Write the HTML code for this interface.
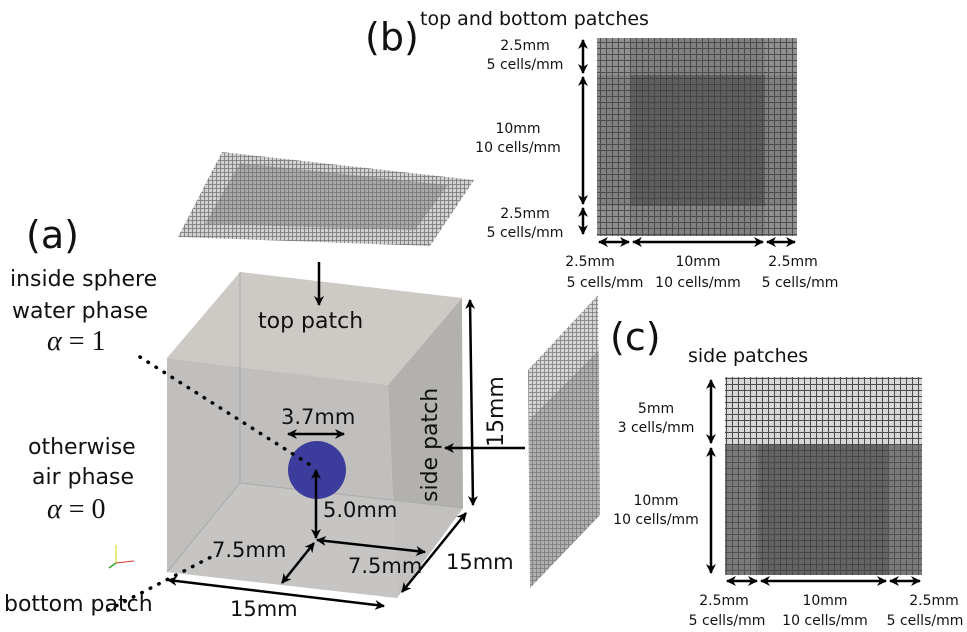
<!DOCTYPE html>
<html><head><meta charset="utf-8"><style>
html,body{margin:0;padding:0;background:#fff;}
svg{display:block;font-family:"Liberation Sans","DejaVu Sans",sans-serif;}
</style></head><body>
<svg width="967" height="632" viewBox="0 0 967 632" xmlns="http://www.w3.org/2000/svg">
<defs>
<marker id="ah" viewBox="0 0 10 10" refX="9" refY="5" markerWidth="4" markerHeight="4" orient="auto-start-reverse"><path d="M0,0 L10,5 L0,10 L3,5 z" fill="#000"/></marker>
<pattern id="gc" width="6" height="6" patternUnits="userSpaceOnUse"><rect width="6" height="6" fill="#e8e8e8"/><path d="M0,0.5H6M0.5,0V6" stroke="#444" stroke-width="1"/></pattern>
<pattern id="gm" width="4" height="4" patternUnits="userSpaceOnUse"><rect width="4" height="4" fill="#ccc"/><path d="M0,0.5H4M0.5,0V4" stroke="#666" stroke-width="0.8"/></pattern>
</defs>

<!-- top patch mesh -->
<polygon points="222,152 474,180 430,246 178,237" fill="url(#gm)" opacity="0.9"/>
<polygon points="240,163 448,185 415,230 205,224" fill="#777" opacity="0.45"/>
<!-- side patch mesh -->
<polygon points="598,295 600,515 530,588 528,370" fill="url(#gm)" opacity="0.85"/>
<polygon points="599,350 600,515 530,588 529,420" fill="#777" opacity="0.4"/>

<!-- cube -->
<polygon points="240,272 462,298 388,385 167,358" fill="#cdcac5"/>
<polygon points="462,298 463,508 397,598 388,385" fill="#b3b1ae"/>
<polygon points="167,358 388,385 397,598 167,572" fill="#c0bfbd"/>
<polygon points="240,483 463,508 397,598 167,572" fill="#c9c8c6" opacity="0.7"/>
<line x1="240" y1="272" x2="240" y2="483" stroke="#aaa" stroke-width="1"/>
<line x1="240" y1="483" x2="463" y2="508" stroke="#aaa" stroke-width="1"/>
<line x1="240" y1="483" x2="167" y2="572" stroke="#aaa" stroke-width="1"/>
<circle cx="317" cy="470" r="29" fill="#3c3c9c"/>

<!-- dotted leaders -->
<line x1="140" y1="357" x2="315" y2="468" stroke="#000" stroke-width="3.5" stroke-dasharray="0.5,9" stroke-linecap="round"/>
<line x1="108" y1="610" x2="215" y2="555" stroke="#000" stroke-width="3.5" stroke-dasharray="0.5,9" stroke-linecap="round"/>

<!-- arrows -->
<g stroke="#000" stroke-width="2.5" fill="none" marker-end="url(#ah)">
<line x1="319" y1="262" x2="319" y2="305"/>
<line x1="525" y1="448" x2="445" y2="448"/>
</g>
<g stroke="#000" stroke-width="2.5" fill="none" marker-start="url(#ah)" marker-end="url(#ah)">
<line x1="288" y1="434" x2="344" y2="434"/>
<line x1="316" y1="470" x2="316" y2="538"/>
<line x1="317" y1="540" x2="425" y2="552"/>
<line x1="314" y1="543" x2="282" y2="583"/>
<line x1="168" y1="580" x2="384" y2="606"/>
<line x1="470" y1="300" x2="473" y2="505"/>
<line x1="466" y1="513" x2="402" y2="592"/>
</g>
<!-- axes glyph -->
<line x1="116" y1="545" x2="116" y2="563" stroke="#dd0" stroke-width="1"/>
<line x1="116" y1="563" x2="134" y2="561" stroke="#d33" stroke-width="1"/>
<line x1="116" y1="563" x2="109" y2="568" stroke="#3a3" stroke-width="1.5"/>

<g font-size="24" fill="#111" font-family="'DejaVu Sans','Liberation Sans',sans-serif">
<text x="258" y="328" font-size="22">top patch</text>
<text x="281" y="424" font-size="21">3.7mm</text>
<text x="323" y="517" font-size="21">5.0mm</text>
<text x="212" y="557" font-size="21">7.5mm</text>
<text x="348" y="573" font-size="21">7.5mm</text>
<text x="446" y="569" font-size="21">15mm</text>
<text x="230" y="616" font-size="21">15mm</text>
<text x="4" y="611" font-size="22">bottom patch</text>
<text x="10" y="286" font-size="22">inside sphere</text>
<text x="12" y="318" font-size="22">water phase</text>
<text x="28" y="454" font-size="22">otherwise</text>
<text x="32" y="484" font-size="22">air phase</text>
<text x="47" y="350" font-family="'Liberation Serif',serif" font-style="italic" font-size="28">α <tspan font-style="normal">= 1</tspan></text>
<text x="47" y="518" font-family="'Liberation Serif',serif" font-style="italic" font-size="28">α <tspan font-style="normal">= 0</tspan></text>
<text x="0" y="0" transform="translate(437,502) rotate(-90)" font-size="22">side patch</text>
<text x="0" y="0" transform="translate(503,447) rotate(-90)" font-size="22">15mm</text>
<text x="26" y="248" font-size="38">(a)</text>
<text x="365" y="50" font-size="38">(b)</text>
<text x="610" y="350" font-size="38">(c)</text>
<text x="420" y="25" font-size="19">top and bottom patches</text>
<text x="688" y="362" font-size="19">side patches</text>
</g>

<!-- panel b -->
<rect x="597" y="38" width="200" height="198" fill="url(#gc)"/>
<rect x="597" y="38" width="200" height="198" fill="#555" opacity="0.6"/>
<rect x="631" y="75" width="134" height="131" fill="#333" opacity="0.35"/>
<rect x="631" y="38" width="134" height="198" fill="#444" opacity="0.2"/>
<rect x="597" y="75" width="200" height="131" fill="#444" opacity="0.2"/>
<g stroke="#000" stroke-width="2.5" marker-start="url(#ah)" marker-end="url(#ah)">
<line x1="583" y1="40" x2="583" y2="73"/>
<line x1="583" y1="77" x2="583" y2="204"/>
<line x1="583" y1="208" x2="583" y2="234"/>
<line x1="599" y1="242" x2="629" y2="242"/>
<line x1="633" y1="242" x2="763" y2="242"/>
<line x1="767" y1="242" x2="795" y2="242"/>
</g>
<g font-size="14" fill="#111" text-anchor="middle" font-family="'DejaVu Sans','Liberation Sans',sans-serif">
<text x="525" y="50">2.5mm</text><text x="525" y="69">5 cells/mm</text>
<text x="518" y="133">10mm</text><text x="518" y="152">10 cells/mm</text>
<text x="525" y="218">2.5mm</text><text x="525" y="237">5 cells/mm</text>
<text x="590" y="266">2.5mm</text><text x="605" y="287">5 cells/mm</text>
<text x="698" y="266">10mm</text><text x="698" y="287">10 cells/mm</text>
<text x="793" y="266">2.5mm</text><text x="800" y="287">5 cells/mm</text>
</g>

<!-- panel c -->
<rect x="725" y="377" width="197" height="198" fill="url(#gc)"/>
<rect x="725" y="445" width="197" height="130" fill="#555" opacity="0.75"/>
<rect x="758" y="445" width="130" height="130" fill="#333" opacity="0.3"/>
<rect x="725" y="377" width="197" height="68" fill="#777" opacity="0.15"/>
<g stroke="#000" stroke-width="2.5" marker-start="url(#ah)" marker-end="url(#ah)">
<line x1="711" y1="380" x2="711" y2="443"/>
<line x1="711" y1="448" x2="711" y2="573"/>
<line x1="727" y1="581" x2="757" y2="581"/>
<line x1="761" y1="581" x2="886" y2="581"/>
<line x1="890" y1="581" x2="920" y2="581"/>
</g>
<g font-size="14" fill="#111" text-anchor="middle" font-family="'DejaVu Sans','Liberation Sans',sans-serif">
<text x="656" y="413">5mm</text><text x="656" y="432">3 cells/mm</text>
<text x="656" y="505">10mm</text><text x="656" y="524">10 cells/mm</text>
<text x="724" y="605">2.5mm</text><text x="727" y="625">5 cells/mm</text>
<text x="825" y="605">10mm</text><text x="825" y="625">10 cells/mm</text>
<text x="934" y="605">2.5mm</text><text x="925" y="625">5 cells/mm</text>
</g>
</svg>
</body></html>
